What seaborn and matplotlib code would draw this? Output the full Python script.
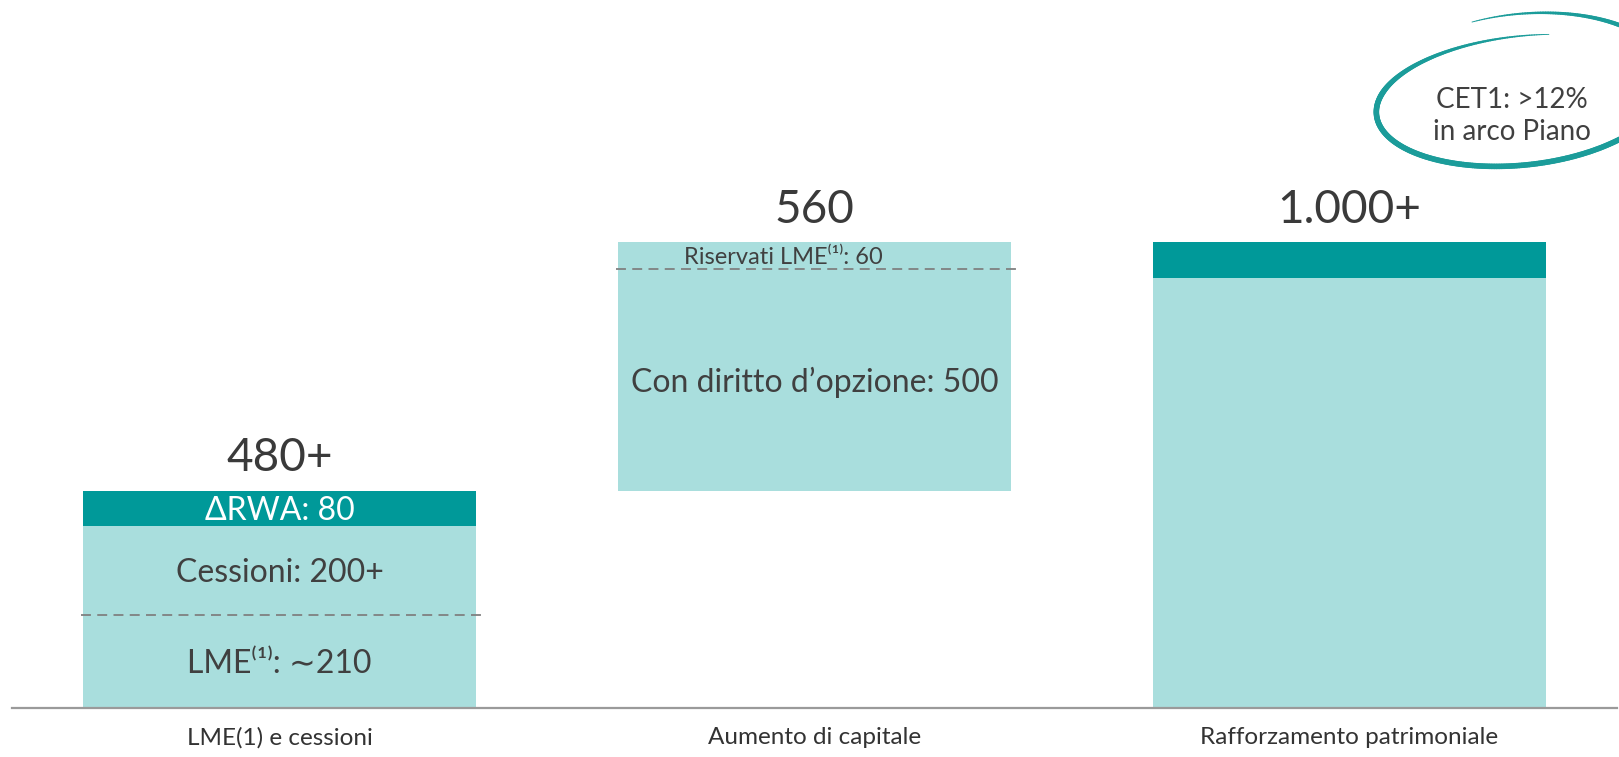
import numpy as np
import pandas as pd
import matplotlib
matplotlib.use("Agg")
import matplotlib.pyplot as plt
from matplotlib.collections import LineCollection
import seaborn as sns

# ---- data -------------------------------------------------------------
categories = ["LME(1) e cessioni", "Aumento di capitale", "Rafforzamento patrimoniale"]

# first bar: stacked contributions
lme_value = 210
cessioni_value = 200
rwa_value = 80
# second bar: capital increase components (floating on top of the first bar)
riservati_value = 60
opzione_value = 500

total_labels = ["480+", "560", "1.000+"]
segment_labels = {
    "lme": "LME\u207d\u00b9\u207e: \u223c210",
    "cessioni": "Cessioni: 200+",
    "rwa": "\u0394RWA: 80",
    "opzione": "Con diritto d\u2019opzione: 500",
    "riservati": "Riservati LME\u207d\u00b9\u207e: 60",
}
note_lines = ["CET1: >12%", "in arco Piano"]

# ---- styling ------------------------------------------------------------
DARK = "#009999"
LIGHT = "#a9dedd"
TEXT = "#404040"
RING = "#1b9c9a"
BAR_W = 0.736

sns.set_theme(style="white")
plt.rcParams["font.family"] = ["Lato", "DejaVu Sans"]

W, H = 1619, 757
fig = plt.figure(figsize=(W / 100, H / 100), dpi=100)
ax = fig.add_axes([12 / W, 49 / H, 1605 / W, 708 / H])

bar1_top = lme_value + cessioni_value + rwa_value
bar2_top = bar1_top + opzione_value + riservati_value
final_light = bar2_top - rwa_value

# stacked segments: (category, height, bottom, colour)
segments = pd.DataFrame({
    "cat": [categories[0], categories[0], categories[0],
            categories[1], categories[1],
            categories[2], categories[2]],
    "height": [lme_value, cessioni_value, rwa_value,
               opzione_value, riservati_value,
               final_light, rwa_value],
    "bottom": [0, lme_value, lme_value + cessioni_value,
               bar1_top, bar1_top + opzione_value,
               0, final_light],
    "color": [LIGHT, LIGHT, DARK, LIGHT, LIGHT, LIGHT, DARK],
})

for _, row in segments.iterrows():
    sns.barplot(x=[row["cat"]], y=[row["height"]], order=categories,
                bottom=row["bottom"], color=row["color"], width=BAR_W,
                saturation=1, linewidth=0, ax=ax)

ax.set_xlim(-0.5, 2.5)
ax.set_ylim(0, bar2_top * 708 / 466)

# dashed separators inside the light stacks
for xc, yv in [(0, lme_value), (1, bar1_top + opzione_value)]:
    ax.hlines(yv, xc - BAR_W / 2 - 0.003, xc + BAR_W / 2 + 0.012,
              colors="#808080", linestyles=(0, (5.5, 3.5)), linewidth=1.3)

# segment labels
def seg_label(x, lo, hi, text, color=TEXT, size=23, dx=0.0):
    ax.text(x + dx, (lo + hi) / 2, text, ha="center", va="center_baseline",
            color=color, fontsize=size)

seg_label(0, 0, lme_value, segment_labels["lme"])
seg_label(0, lme_value, lme_value + cessioni_value, segment_labels["cessioni"])
seg_label(0, lme_value + cessioni_value, bar1_top, segment_labels["rwa"], color="white")
seg_label(1, bar1_top, bar1_top + opzione_value, segment_labels["opzione"])
seg_label(1, bar1_top + opzione_value, bar2_top, segment_labels["riservati"],
          size=17, dx=-0.058)

# totals above bars
for xc, top, lab in zip(range(3), [bar1_top, bar2_top, bar2_top], total_labels):
    ax.annotate(lab, (xc, top), xytext=(0, 14), textcoords="offset points",
                ha="center", va="baseline", fontsize=33, color="#3a3a3a")

# axes cosmetics
for side in ["top", "right", "left"]:
    ax.spines[side].set_visible(False)
ax.spines["bottom"].set_color("#9a9a9a")
ax.spines["bottom"].set_linewidth(1.6)
ax.set_yticks([])
ax.set_xlabel("")
ax.set_ylabel("")
ax.tick_params(axis="x", length=0, pad=14, labelsize=17.5, labelcolor="#333333")

# ---- hand-drawn ring with the CET1 note (figure pixel overlay) ----------
ov = fig.add_axes([0, 0, 1, 1], zorder=5)
ov.set_xlim(0, W)
ov.set_ylim(H, 0)
ov.axis("off")
ov.patch.set_alpha(0)

t = np.linspace(0, 1, 400)
theta = np.deg2rad(76 + t * (465 - 76))
a = 145 + 7 * t
b = 58 + 24 * t
phi = np.deg2rad(8)
u = a * np.cos(theta)
v = b * np.sin(theta)
px = 1522 + u * np.cos(phi) - v * np.sin(phi)
py = 95 - (u * np.sin(phi) + v * np.cos(phi))
pts = np.column_stack([px, py]).reshape(-1, 1, 2)
segs = np.concatenate([pts[:-1], pts[1:]], axis=1)
widths = 0.6 + 3.4 * np.clip(np.sin(np.pi * t[:-1]) * 1.6, 0, 1)
ov.add_collection(LineCollection(segs, colors=RING, linewidths=widths,
                                 capstyle="round"))

ov.text(1512, 97, note_lines[0], ha="center", va="center_baseline",
        fontsize=20, color=TEXT)
ov.text(1512, 130, note_lines[1], ha="center", va="center_baseline",
        fontsize=20, color=TEXT)

fig.savefig("out.png", dpi=100)
